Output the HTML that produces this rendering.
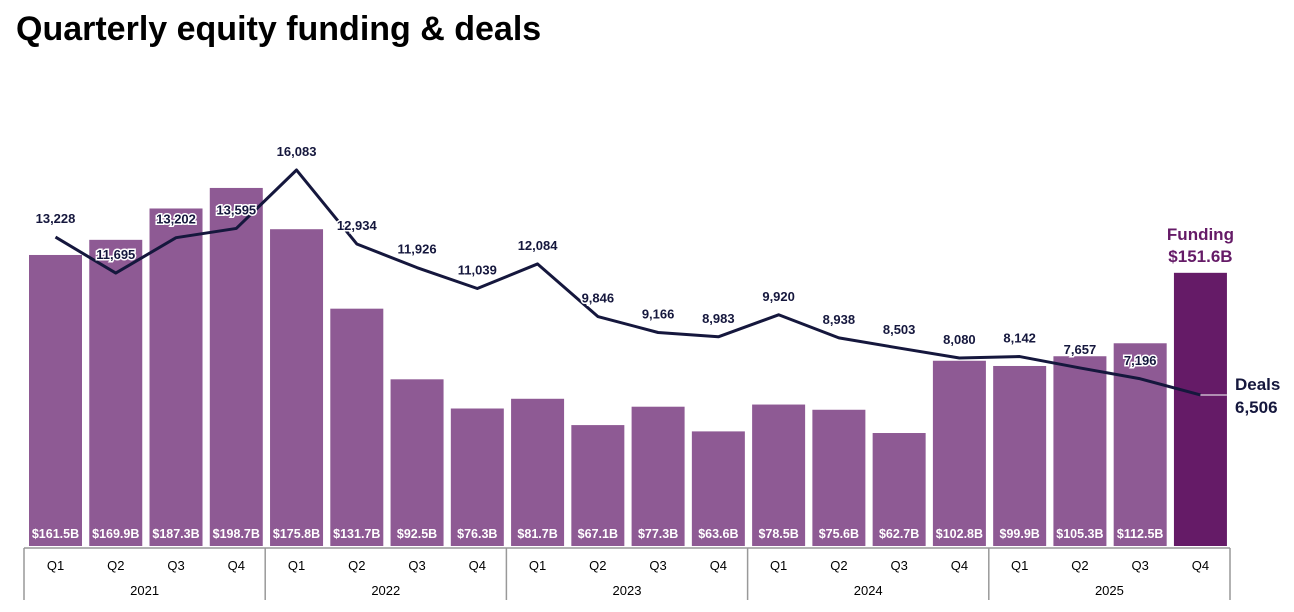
<!DOCTYPE html>
<html><head><meta charset="utf-8"><style>
body{margin:0;background:#fff;width:1294px;height:612px;overflow:hidden;font-family:"Liberation Sans",sans-serif}
h1{position:absolute;left:16px;top:10px;margin:0;font-size:34px;font-weight:bold;color:#000;letter-spacing:0}
</style></head><body>
<h1>Quarterly equity funding &amp; deals</h1>
<svg id="c" width="1294" height="612" style="position:absolute;left:0;top:0"></svg>
<script>
const quarters=["Q1","Q2","Q3","Q4","Q1","Q2","Q3","Q4","Q1","Q2","Q3","Q4","Q1","Q2","Q3","Q4","Q1","Q2","Q3","Q4"];
const years=["2021","2022","2023","2024","2025"];
const funding=[161.5,169.9,187.3,198.7,175.8,131.7,92.5,76.3,81.7,67.1,77.3,63.6,78.5,75.6,62.7,102.8,99.9,105.3,112.5,151.6];
const deals=[13228,11695,13202,13595,16083,12934,11926,11039,12084,9846,9166,8983,9920,8938,8503,8080,8142,7657,7196,6506];
const svg=document.getElementById('c');const NS="http://www.w3.org/2000/svg";
function mk(t,a,p){const e=document.createElementNS(NS,t);for(const k in a)e.setAttribute(k,a[k]);(p||svg).appendChild(e);return e;}
const base=546,pitch=60.26,x0=29,bw=53;
const xs=i=>x0+i*pitch;
const yF=v=>base-v*1.802;
const yD=d=>547.8-d*0.02349;
const n=funding.length;
funding.forEach((v,i)=>{
 const last=i===n-1;
 const r=mk('rect',{x:xs(i),y:yF(v),width:bw,height:base-yF(v),fill:last?'#651b67':'#8e5a94'});
 
 
 if(!last){const t=mk('text',{x:xs(i)+bw/2,y:538,'text-anchor':'middle','font-size':'12.5','font-weight':'bold',fill:'#fff'});t.textContent='$'+v.toFixed(1)+'B';
 
 }
});
mk('line',{x1:24,y1:548,x2:1230,y2:548,stroke:'#999','stroke-width':1.5});
for(let k=0;k<=5;k++){const x=24+k*241.2;mk('line',{x1:x,y1:548,x2:x,y2:600,stroke:'#999','stroke-width':1.5});}
quarters.forEach((q,i)=>{const t=mk('text',{x:xs(i)+bw/2,y:570,'text-anchor':'middle','font-size':'13',fill:'#000'});t.textContent=q;
 
 });
years.forEach((y,k)=>{const t=mk('text',{x:24+k*241.2+120.6,y:595,'text-anchor':'middle','font-size':'13',fill:'#000'});t.textContent=y;
 
 });
const pts=deals.map((d,i)=>(xs(i)+bw/2)+','+yD(d)).join(' ');
const pl=mk('polyline',{points:pts,fill:'none',stroke:'#15173d','stroke-width':3,'stroke-linejoin':'round'});


mk('line',{x1:xs(n-1)+bw/2,y1:yD(deals[n-1]),x2:xs(n-1)+bw,y2:yD(deals[n-1]),stroke:'#c9b4cc','stroke-width':1.5});
deals.forEach((d,i)=>{if(i===n-1)return;
 const t=mk('text',{x:xs(i)+bw/2,y:yD(d)-14,'text-anchor':'middle','font-size':'13','font-weight':'bold',fill:'#15173d',stroke:'#fff','stroke-width':3,'paint-order':'stroke'});
 t.textContent=d.toLocaleString('en-US');
 
 });
function lab(txt,x,y,col,name,anchor){const t=mk('text',{x:x,y:y,'text-anchor':anchor,'font-size':'17','font-weight':'bold',fill:col});t.textContent=txt;
 
 }
const lx=xs(n-1)+bw/2;
lab('Funding',lx,240,'#651b67','funding-series-label','middle');
lab('$'+funding[n-1].toFixed(1)+'B',lx,262,'#651b67','funding-last-value','middle');
lab('Deals',1235,390,'#15173d','deals-series-label','start');
lab(deals[n-1].toLocaleString('en-US'),1235,413,'#15173d','deals-last-value','start');
</script>
</body></html>
